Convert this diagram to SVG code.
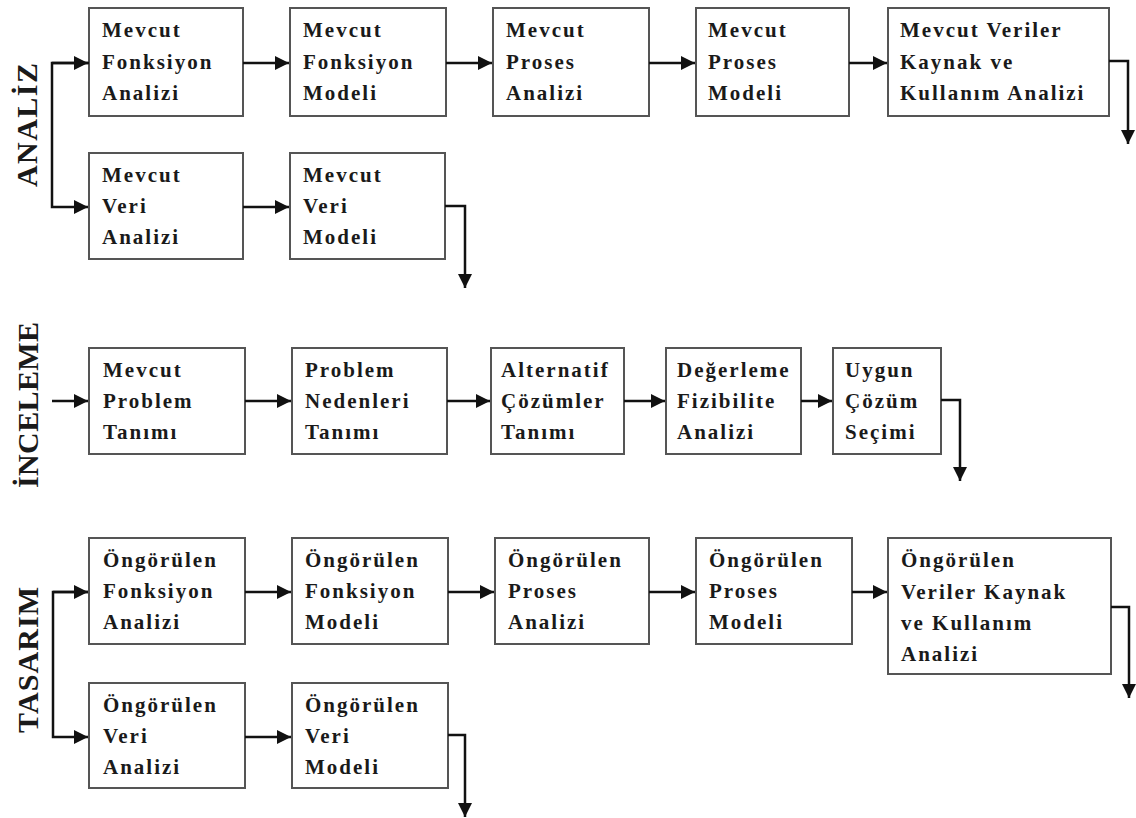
<svg xmlns="http://www.w3.org/2000/svg" width="1136" height="818" viewBox="0 0 1136 818">
  <style>
    .box { fill: #ffffff; stroke: #555555; stroke-width: 2; }
    .t { font-family: "Liberation Serif", "Times New Roman", serif; font-weight: bold; font-size: 21px; letter-spacing: 2px; fill: #1a1a1a; }
    .lbl { font-family: "Liberation Serif", "Times New Roman", serif; font-weight: bold; font-size: 30px; fill: #1a1a1a; }
    .c { fill: none; stroke: #111111; stroke-width: 2.5; }
  </style>
  <defs>
    <marker id="ah" viewBox="0 0 10 10" refX="10" refY="5" markerWidth="6" markerHeight="5.6" markerUnits="strokeWidth" orient="auto">
      <path d="M0,0 L10,5 L0,10 z" fill="#111111"/>
    </marker>
  </defs>

  <rect width="1136" height="818" fill="#ffffff"/>

  <!-- section labels -->
  <text class="lbl" transform="translate(37,125) rotate(-90)" text-anchor="middle" textLength="124" lengthAdjust="spacing">ANALİZ</text>
  <text class="lbl" transform="translate(38,405) rotate(-90)" text-anchor="middle" textLength="166" lengthAdjust="spacing">İNCELEME</text>
  <text class="lbl" transform="translate(38,660) rotate(-90)" text-anchor="middle" textLength="146" lengthAdjust="spacing">TASARIM</text>

  <!-- ANALİZ -->
  <g id="a1"><rect class="box" x="89" y="8" width="154" height="108"/>
    <text class="t" x="102" y="37">Mevcut</text><text class="t" x="102" y="69">Fonksiyon</text><text class="t" x="102" y="100">Analizi</text></g>
  <g id="a2"><rect class="box" x="290" y="8" width="156" height="108"/>
    <text class="t" x="303" y="37">Mevcut</text><text class="t" x="303" y="69">Fonksiyon</text><text class="t" x="303" y="100">Modeli</text></g>
  <g id="a3"><rect class="box" x="493" y="8" width="156" height="108"/>
    <text class="t" x="506" y="37">Mevcut</text><text class="t" x="506" y="69">Proses</text><text class="t" x="506" y="100">Analizi</text></g>
  <g id="a4"><rect class="box" x="696" y="8" width="153" height="108"/>
    <text class="t" x="708" y="37">Mevcut</text><text class="t" x="708" y="69">Proses</text><text class="t" x="708" y="100">Modeli</text></g>
  <g id="a5"><rect class="box" x="888" y="8" width="221" height="108"/>
    <text class="t" x="900" y="37">Mevcut Veriler</text><text class="t" x="900" y="69">Kaynak ve</text><text class="t" x="900" y="100">Kullanım Analizi</text></g>
  <g id="a6"><rect class="box" x="89" y="153" width="154" height="106"/>
    <text class="t" x="102" y="182">Mevcut</text><text class="t" x="102" y="213">Veri</text><text class="t" x="102" y="244">Analizi</text></g>
  <g id="a7"><rect class="box" x="290" y="153" width="155" height="106"/>
    <text class="t" x="303" y="182">Mevcut</text><text class="t" x="303" y="213">Veri</text><text class="t" x="303" y="244">Modeli</text></g>

  <!-- İNCELEME -->
  <g id="i1"><rect class="box" x="89" y="348" width="156" height="106"/>
    <text class="t" x="103" y="377">Mevcut</text><text class="t" x="103" y="408">Problem</text><text class="t" x="103" y="439">Tanımı</text></g>
  <g id="i2"><rect class="box" x="292" y="348" width="155" height="106"/>
    <text class="t" x="305" y="377">Problem</text><text class="t" x="305" y="408">Nedenleri</text><text class="t" x="305" y="439">Tanımı</text></g>
  <g id="i3"><rect class="box" x="491" y="348" width="133" height="106"/>
    <text class="t" x="501" y="377">Alternatif</text><text class="t" x="501" y="408">Çözümler</text><text class="t" x="501" y="439">Tanımı</text></g>
  <g id="i4"><rect class="box" x="666" y="348" width="135" height="106"/>
    <text class="t" x="677" y="377">Değerleme</text><text class="t" x="677" y="408">Fizibilite</text><text class="t" x="677" y="439">Analizi</text></g>
  <g id="i5"><rect class="box" x="833" y="348" width="108" height="106"/>
    <text class="t" x="845" y="377">Uygun</text><text class="t" x="845" y="408">Çözüm</text><text class="t" x="845" y="439">Seçimi</text></g>

  <!-- TASARIM -->
  <g id="t1"><rect class="box" x="89" y="538" width="156" height="106"/>
    <text class="t" x="103" y="567">Öngörülen</text><text class="t" x="103" y="598">Fonksiyon</text><text class="t" x="103" y="629">Analizi</text></g>
  <g id="t2"><rect class="box" x="292" y="538" width="156" height="106"/>
    <text class="t" x="305" y="567">Öngörülen</text><text class="t" x="305" y="598">Fonksiyon</text><text class="t" x="305" y="629">Modeli</text></g>
  <g id="t3"><rect class="box" x="495" y="538" width="154" height="106"/>
    <text class="t" x="508" y="567">Öngörülen</text><text class="t" x="508" y="598">Proses</text><text class="t" x="508" y="629">Analizi</text></g>
  <g id="t4"><rect class="box" x="696" y="538" width="156" height="106"/>
    <text class="t" x="709" y="567">Öngörülen</text><text class="t" x="709" y="598">Proses</text><text class="t" x="709" y="629">Modeli</text></g>
  <g id="t5"><rect class="box" x="888" y="538" width="223" height="136"/>
    <text class="t" x="901" y="567">Öngörülen</text><text class="t" x="901" y="599">Veriler Kaynak</text><text class="t" x="901" y="630">ve Kullanım</text><text class="t" x="901" y="661">Analizi</text></g>
  <g id="t6"><rect class="box" x="89" y="683" width="156" height="105"/>
    <text class="t" x="103" y="712">Öngörülen</text><text class="t" x="103" y="743">Veri</text><text class="t" x="103" y="774">Analizi</text></g>
  <g id="t7"><rect class="box" x="292" y="683" width="156" height="105"/>
    <text class="t" x="305" y="712">Öngörülen</text><text class="t" x="305" y="743">Veri</text><text class="t" x="305" y="774">Modeli</text></g>

  <!-- connectors -->
  <g id="connectors">
    <!-- ANALİZ -->
    <path class="c" d="M89,63 H52 V207 H88" marker-end="url(#ah)"/>
    <path class="c" d="M52,63 H88" marker-end="url(#ah)"/>
    <path class="c" d="M243,63 H289" marker-end="url(#ah)"/>
    <path class="c" d="M446,63 H492" marker-end="url(#ah)"/>
    <path class="c" d="M649,63 H695" marker-end="url(#ah)"/>
    <path class="c" d="M849,63 H887" marker-end="url(#ah)"/>
    <path class="c" d="M1109,61 H1128 V144" marker-end="url(#ah)"/>
    <path class="c" d="M243,207 H289" marker-end="url(#ah)"/>
    <path class="c" d="M445,206 H465 V288" marker-end="url(#ah)"/>
    <!-- İNCELEME -->
    <path class="c" d="M52,401 H88" marker-end="url(#ah)"/>
    <path class="c" d="M245,401 H291" marker-end="url(#ah)"/>
    <path class="c" d="M447,401 H490" marker-end="url(#ah)"/>
    <path class="c" d="M624,401 H665" marker-end="url(#ah)"/>
    <path class="c" d="M801,401 H832" marker-end="url(#ah)"/>
    <path class="c" d="M941,400 H960 V481" marker-end="url(#ah)"/>
    <!-- TASARIM -->
    <path class="c" d="M88,592 H53 V737 H88" marker-end="url(#ah)"/>
    <path class="c" d="M53,592 H88" marker-end="url(#ah)"/>
    <path class="c" d="M245,592 H291" marker-end="url(#ah)"/>
    <path class="c" d="M448,592 H494" marker-end="url(#ah)"/>
    <path class="c" d="M649,592 H695" marker-end="url(#ah)"/>
    <path class="c" d="M852,592 H887" marker-end="url(#ah)"/>
    <path class="c" d="M1111,607 H1129 V698" marker-end="url(#ah)"/>
    <path class="c" d="M245,737 H291" marker-end="url(#ah)"/>
    <path class="c" d="M448,735 H465 V817" marker-end="url(#ah)"/>
  </g>
</svg>
